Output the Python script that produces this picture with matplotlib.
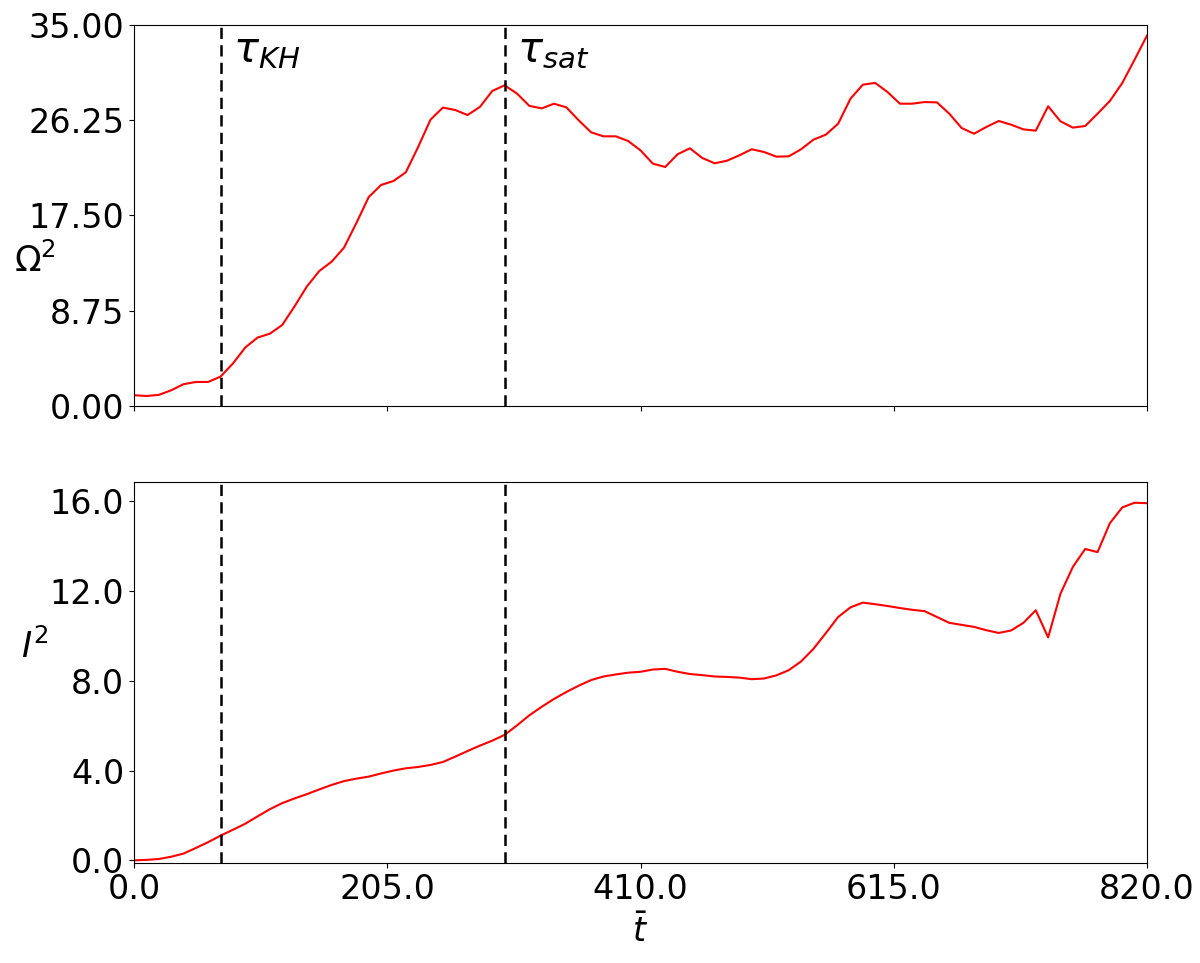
import numpy as np
import matplotlib
matplotlib.use('Agg')
import matplotlib.pyplot as plt

time_values = np.arange(0, 830, 10)

omega_squared = [
    0.97, 0.90, 1.00, 1.42, 1.98, 2.19, 2.19, 2.68, 3.88, 5.35,
    6.27, 6.63, 7.43, 9.15, 10.98, 12.39, 13.25, 14.54, 16.80, 19.19,
    20.30, 20.66, 21.46, 23.79, 26.30, 27.41, 27.19, 26.73, 27.47, 28.94,
    29.46, 28.70, 27.57, 27.34, 27.77, 27.43, 26.24, 25.14, 24.77, 24.77,
    24.34, 23.48, 22.26, 21.95, 23.12, 23.67, 22.78, 22.29, 22.53, 23.02,
    23.58, 23.33, 22.90, 22.93, 23.58, 24.46, 24.92, 25.93, 28.23, 29.52,
    29.68, 28.84, 27.77, 27.77, 27.92, 27.89, 26.85, 25.53, 25.01, 25.63,
    26.18, 25.84, 25.41, 25.29, 27.53, 26.15, 25.57, 25.72, 26.85, 28.02,
    29.67, 31.82, 34.02,
]

current_squared = [
    0.00, 0.02, 0.06, 0.16, 0.30, 0.55, 0.81, 1.10, 1.36, 1.63,
    1.96, 2.28, 2.55, 2.76, 2.95, 3.16, 3.36, 3.53, 3.64, 3.73,
    3.87, 4.00, 4.10, 4.16, 4.25, 4.38, 4.62, 4.87, 5.11, 5.33,
    5.59, 6.01, 6.46, 6.84, 7.19, 7.50, 7.78, 8.03, 8.19, 8.28,
    8.36, 8.40, 8.50, 8.53, 8.40, 8.30, 8.25, 8.19, 8.17, 8.14,
    8.07, 8.10, 8.24, 8.47, 8.86, 9.42, 10.12, 10.84, 11.27, 11.48,
    11.41, 11.33, 11.24, 11.16, 11.10, 10.84, 10.58, 10.49, 10.40, 10.25,
    10.13, 10.24, 10.58, 11.14, 9.93, 11.88, 13.07, 13.87, 13.73, 15.02,
    15.72, 15.93, 15.91,
]

tau_kh  = 70.0
tau_sat = 300.0

x_ticks       = [0.0, 205.0, 410.0, 615.0, 820.0]
omega_ticks   = [0.0, 8.75, 17.50, 26.25, 35.0]
current_ticks = [0.0, 4.0, 8.0, 12.0, 16.0]

# ---- Plot ----

plt.rcParams['font.size'] = 24
plt.rcParams['mathtext.fontset'] = 'dejavusans'

fig, (ax_top, ax_bottom) = plt.subplots(2, 1, figsize=(12, 9.63), dpi=100, sharex=True)
fig.subplots_adjust(left=0.1117, right=0.9558, top=0.974, bottom=0.1038, hspace=0.201)

dash_style = (0, (4.5, 2.5))

ax_top.plot(time_values, omega_squared, color='red', linewidth=1.5)
for t_mark in (tau_kh, tau_sat):
    ax_top.axvline(t_mark, color='black', linestyle=dash_style, linewidth=1.8)
ax_top.text(tau_kh + 10, 34.6, r'$\tau_{KH}$', fontsize=30, ha='left', va='top')
ax_top.text(tau_sat + 10, 34.6, r'$\tau_{sat}$', fontsize=30, ha='left', va='top')
ax_top.set_ylim(0, 35)
ax_top.set_yticks(omega_ticks)
ax_top.yaxis.set_major_formatter(matplotlib.ticker.FormatStrFormatter('%.2f'))
ax_top.set_ylabel(r'$\Omega^2$', fontsize=25, rotation=0, ha='center', va='center')
ax_top.yaxis.set_label_coords(-0.098, 0.38)

ax_bottom.plot(time_values, current_squared, color='red', linewidth=1.5)
for t_mark in (tau_kh, tau_sat):
    ax_bottom.axvline(t_mark, color='black', linestyle=dash_style, linewidth=1.8)
ax_bottom.set_ylim(-0.12, 16.84)
ax_bottom.set_yticks(current_ticks)
ax_bottom.yaxis.set_major_formatter(matplotlib.ticker.FormatStrFormatter('%.1f'))
ax_bottom.set_ylabel(r'$I^2$', fontsize=25, rotation=0, ha='center', va='center')
ax_bottom.yaxis.set_label_coords(-0.098, 0.567)

ax_bottom.set_xlim(0, 820)
ax_bottom.set_xticks(x_ticks)
ax_bottom.xaxis.set_major_formatter(matplotlib.ticker.FormatStrFormatter('%.1f'))
ax_bottom.set_xlabel(r'$\bar{t}$', labelpad=6)

plt.savefig('out.png', dpi=100)
